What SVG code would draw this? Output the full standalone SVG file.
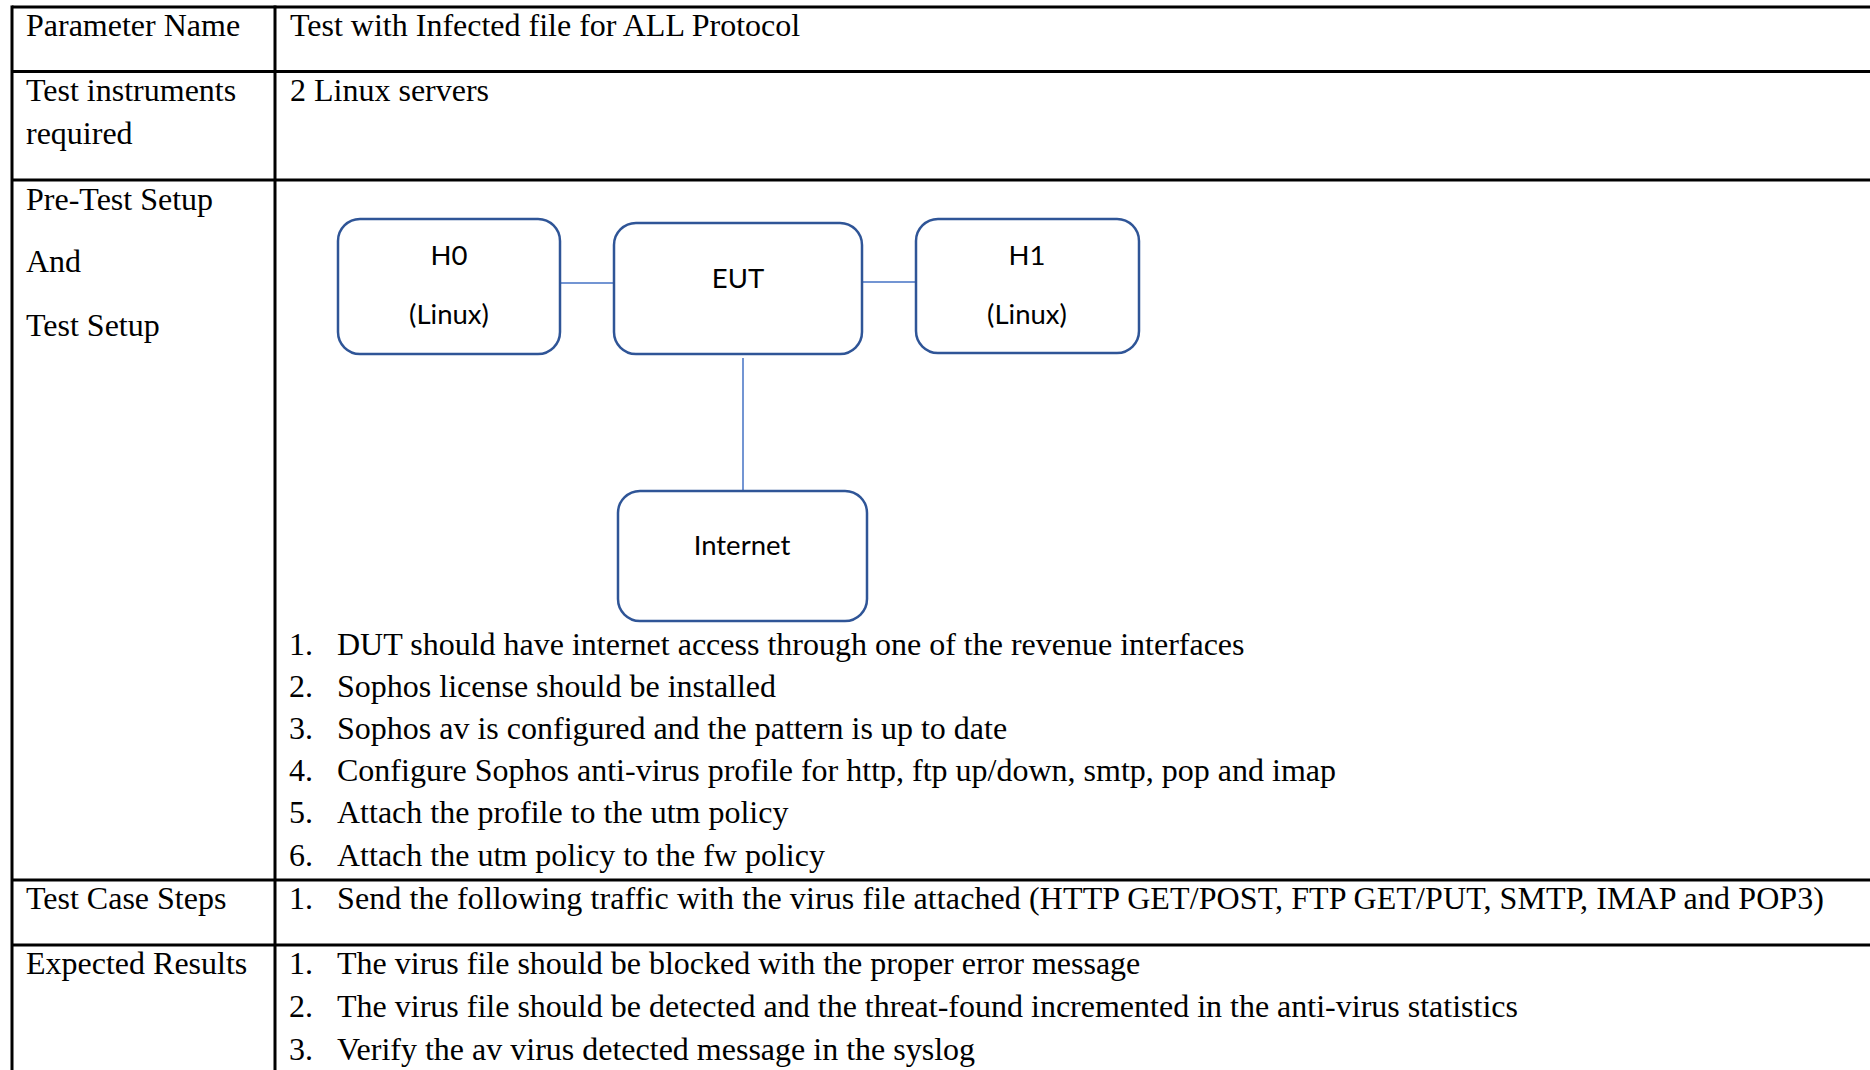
<svg xmlns="http://www.w3.org/2000/svg" width="1870" height="1070" viewBox="0 0 1870 1070">
<style>
.grid{stroke:#000;stroke-width:3;fill:none}
.t{font-family:"Liberation Serif","Times New Roman",serif;font-size:32px;fill:#000}
.node{fill:#fff;stroke:#2F5597;stroke-width:2.5}
.nt{font-family:Lato,"Noto Sans",sans-serif;font-size:27.5px;fill:#000;text-anchor:middle}
.conn{stroke:#4472C4;stroke-width:1.5;fill:none}
</style>
<rect x="0" y="0" width="1870" height="1070" fill="#fff"/>
<g id="table">
<line class="grid" x1="12" y1="7" x2="1870" y2="7"/>
<line class="grid" x1="12" y1="71.5" x2="1870" y2="71.5"/>
<line class="grid" x1="12" y1="180" x2="1870" y2="180"/>
<line class="grid" x1="12" y1="880" x2="1870" y2="880"/>
<line class="grid" x1="12" y1="945" x2="1870" y2="945"/>
<line class="grid" x1="12" y1="5.5" x2="12" y2="1070"/>
<line class="grid" x1="275" y1="5.5" x2="275" y2="1070"/>
</g>
<g id="labels">
<text class="t" x="26" y="36">Parameter Name</text>
<text class="t" x="290" y="36">Test with Infected file for ALL Protocol</text>
<text class="t" x="26" y="101">Test instruments</text>
<text class="t" x="26" y="144">required</text>
<text class="t" x="290" y="101">2 Linux servers</text>
<text class="t" x="26" y="210">Pre-Test Setup</text>
<text class="t" x="26" y="272">And</text>
<text class="t" x="26" y="336">Test Setup</text>
<text class="t" x="26" y="909">Test Case Steps</text>
<text class="t" x="26" y="974">Expected Results</text>
</g>
<g id="pretest-list">
<text class="t" x="289" y="655">1.</text><text class="t" x="337" y="655">DUT should have internet access through one of the revenue interfaces</text>
<text class="t" x="289" y="697">2.</text><text class="t" x="337" y="697">Sophos license should be installed</text>
<text class="t" x="289" y="739">3.</text><text class="t" x="337" y="739">Sophos av is configured and the pattern is up to date</text>
<text class="t" x="289" y="781">4.</text><text class="t" x="337" y="781">Configure Sophos anti-virus profile for http, ftp up/down, smtp, pop and imap</text>
<text class="t" x="289" y="823">5.</text><text class="t" x="337" y="823">Attach the profile to the utm policy</text>
<text class="t" x="289" y="866">6.</text><text class="t" x="337" y="866">Attach the utm policy to the fw policy</text>
</g>
<g id="steps-list">
<text class="t" x="289" y="909">1.</text><text class="t" x="337" y="909" textLength="1487" lengthAdjust="spacing">Send the following traffic with the virus file attached (HTTP GET/POST, FTP GET/PUT, SMTP, IMAP and POP3)</text>
</g>
<g id="results-list">
<text class="t" x="289" y="974">1.</text><text class="t" x="337" y="974">The virus file should be blocked with the proper error message</text>
<text class="t" x="289" y="1017">2.</text><text class="t" x="337" y="1017">The virus file should be detected and the threat-found incremented in the anti-virus statistics</text>
<text class="t" x="289" y="1060">3.</text><text class="t" x="337" y="1060">Verify the av virus detected message in the syslog</text>
</g>
<g id="connectors">
<line class="conn" x1="560" y1="283" x2="614" y2="283"/>
<line class="conn" x1="862" y1="282" x2="916" y2="282"/>
<line class="conn" x1="743" y1="358" x2="743" y2="491"/>
</g>
<g id="node-h0">
<rect class="node" x="338" y="219" width="222" height="135" rx="22"/>
<text class="nt" x="449" y="265">H0</text>
<text class="nt" x="449" y="324">(Linux)</text>
</g>
<g id="node-eut">
<rect class="node" x="614" y="223" width="248" height="131" rx="22"/>
<text class="nt" x="738" y="288">EUT</text>
</g>
<g id="node-h1">
<rect class="node" x="916" y="219" width="223" height="134" rx="22"/>
<text class="nt" x="1027" y="265">H1</text>
<text class="nt" x="1027" y="324">(Linux)</text>
</g>
<g id="node-internet">
<rect class="node" x="618" y="491" width="249" height="130" rx="22"/>
<text class="nt" x="742" y="555">Internet</text>
</g>
</svg>
